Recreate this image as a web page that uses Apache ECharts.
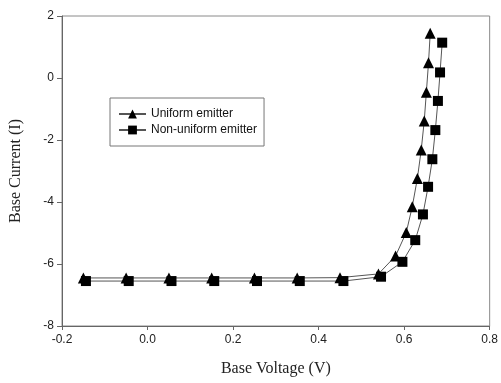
<!DOCTYPE html>
<html>
<head>
    <meta charset="utf-8" />
    <script src="https://cdn.jsdelivr.net/npm/echarts@6/dist/echarts.min.js"></script>
    <title>Base Current vs Base Voltage</title>
    <style>
        html, body { margin: 0; padding: 0; background: #fff; }
        #chart { width: 501px; height: 383px; }
    </style>
</head>
<body>
    <div id="chart"></div>
    <script type="text/javascript">
        var uniformV = [-0.15, -0.05, 0.05, 0.15, 0.25, 0.35, 0.45, 0.54, 0.58, 0.605, 0.619, 0.631, 0.640, 0.647, 0.652, 0.657, 0.661];
        var uniformI = [-6.45, -6.45, -6.45, -6.45, -6.45, -6.45, -6.44, -6.32, -5.74, -4.98, -4.15, -3.24, -2.32, -1.39, -0.46, 0.49, 1.44];
        var nonUniformV = [-0.144, -0.044, 0.056, 0.156, 0.256, 0.356, 0.458, 0.546, 0.596, 0.626, 0.644, 0.656, 0.666, 0.673, 0.679, 0.684, 0.689];
        var nonUniformI = [-6.55, -6.55, -6.55, -6.55, -6.55, -6.55, -6.55, -6.41, -5.93, -5.23, -4.40, -3.51, -2.62, -1.68, -0.74, 0.18, 1.14];

        function pairs(xs, ys) {
            var out = [];
            for (var i = 0; i < xs.length; i++) out.push([xs[i], ys[i]]);
            return out;
        }

        var chart = echarts.init(document.getElementById('chart'), null, { renderer: 'canvas' });
        var option = {
            animation: false,
            grid: {
                left: 62, right: 9, top: 16, bottom: 57,
                show: true, borderColor: '#8a8a8a', borderWidth: 1
            },
            legend: {
                orient: 'vertical',
                left: 110, top: 98,
                padding: [10, 7, 10, 8],
                itemGap: 4,
                itemWidth: 27, itemHeight: 11,
                borderColor: '#777', borderWidth: 1,
                textStyle: { fontFamily: 'Liberation Sans', fontSize: 12, color: '#111' },
                data: ['Uniform emitter', 'Non-uniform emitter']
            },
            xAxis: {
                type: 'value', min: -0.2, max: 0.8, interval: 0.2,
                name: 'Base Voltage (V)', nameLocation: 'middle', nameGap: 35,
                nameTextStyle: { fontFamily: 'Liberation Serif', fontSize: 16, color: '#222' },
                axisLine: { onZero: false, lineStyle: { color: '#666' } },
                axisTick: { inside: false, length: 4, lineStyle: { color: '#666' } },
                axisLabel: {
                    fontFamily: 'Liberation Sans', fontSize: 12, color: '#222', margin: 8,
                    formatter: function (v) { return v.toFixed(1); }
                },
                splitLine: { show: false }
            },
            yAxis: {
                type: 'value', min: -8, max: 2, interval: 2,
                name: 'Base Current (I)', nameLocation: 'middle', nameGap: 38,
                nameTextStyle: { fontFamily: 'Liberation Serif', fontSize: 16, color: '#222' },
                axisLine: { onZero: false, lineStyle: { color: '#666' } },
                axisTick: { inside: false, length: 5, lineStyle: { color: '#666' } },
                axisLabel: { fontFamily: 'Liberation Sans', fontSize: 12, color: '#222', margin: 8 },
                splitLine: { show: false }
            },
            series: [
                {
                    name: 'Uniform emitter',
                    type: 'line',
                    data: pairs(uniformV, uniformI),
                    symbol: 'triangle', symbolSize: 11,
                    lineStyle: { color: '#555', width: 1 },
                    itemStyle: { color: '#000' }
                },
                {
                    name: 'Non-uniform emitter',
                    type: 'line',
                    data: pairs(nonUniformV, nonUniformI),
                    symbol: 'rect', symbolSize: 10,
                    lineStyle: { color: '#555', width: 1 },
                    itemStyle: { color: '#000' }
                }
            ]
        };
        chart.setOption(option);
    </script>
</body>
</html>
